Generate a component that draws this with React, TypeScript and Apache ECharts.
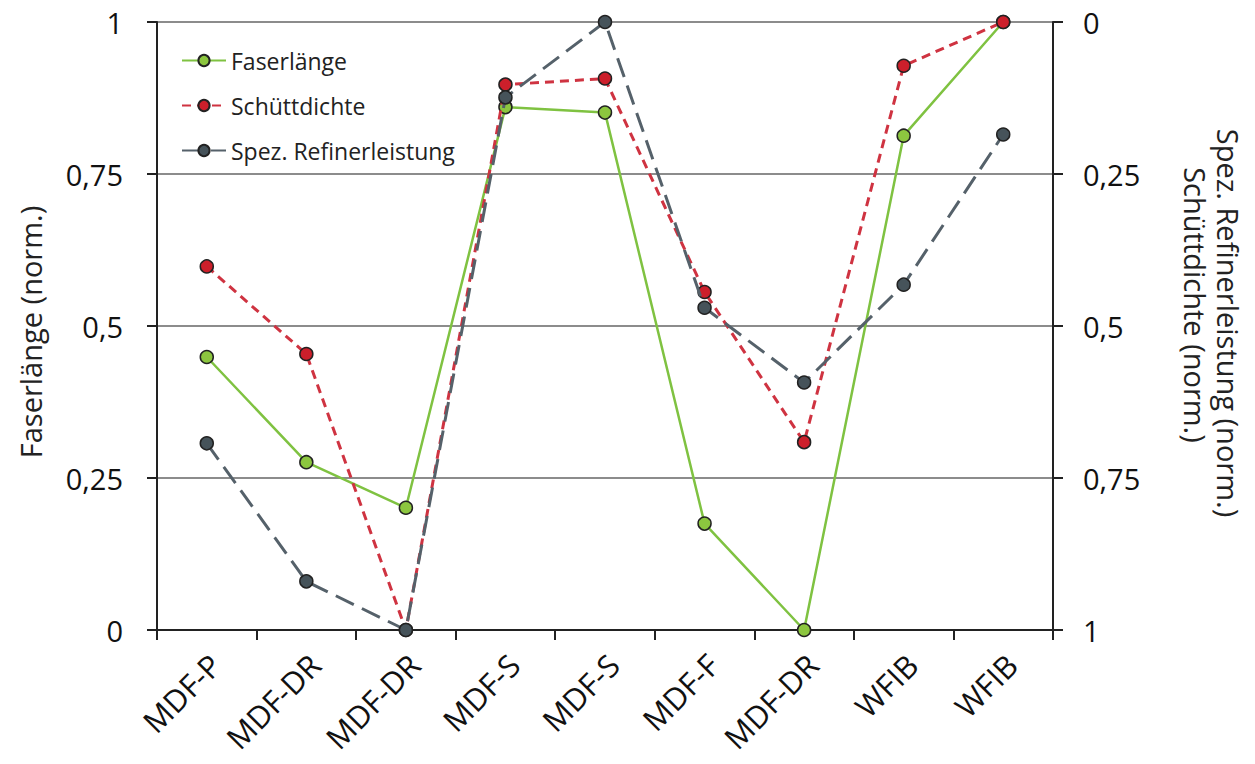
import React, { useEffect, useRef } from "react";
import * as echarts from "echarts";

const categories = ["MDF-P", "MDF-DR", "MDF-DR", "MDF-S", "MDF-S", "MDF-F", "MDF-DR", "WFIB", "WFIB"];
const faserlaenge = [0.449, 0.276, 0.201, 0.86, 0.851, 0.175, 0.0, 0.813, 1.0];
// right axis (inverted) values
const schuettdichte = [0.402, 0.546, 1.0, 0.103, 0.093, 0.444, 0.691, 0.072, 0.0];
const refinerleistung = [0.693, 0.92, 1.0, 0.124, 0.0, 0.47, 0.593, 0.432, 0.185];
const yTicks = [0, 0.25, 0.5, 0.75, 1];

const FONT = "Open Sans";
const fmt = (v: number) => String(v).replace(".", ",");

export default function App() {
  const ref = useRef<HTMLDivElement>(null);
  useEffect(() => {
    if (!ref.current) return;
    const chart = echarts.init(ref.current, null, { renderer: "svg" });
    const markerBorder = { borderColor: "#222", borderWidth: 1.5 };
    chart.setOption({
      animation: false,
      backgroundColor: "#fff",
      textStyle: { fontFamily: FONT },
      grid: { left: 157, right: 202, top: 22, bottom: 134, containLabel: false },
      legend: {
        orient: "vertical",
        left: 176,
        top: 44,
        itemWidth: 44,
        itemHeight: 14,
        itemGap: 22,
        textStyle: { fontFamily: FONT, fontSize: 23, color: "#222" },
        data: ["Faserlänge", "Schüttdichte", "Spez. Refinerleistung"],
      },
      xAxis: {
        type: "category",
        data: categories,
        boundaryGap: true,
        axisLine: { lineStyle: { color: "#222", width: 2 } },
        axisTick: { show: true, length: 10, lineStyle: { color: "#222", width: 2 } },
        axisLabel: {
          rotate: 45,
          margin: 38,
          padding: [0, -12, 0, 0],
          fontFamily: FONT,
          fontSize: 31,
          color: "#111",
          interval: 0,
        },
      },
      yAxis: [
        {
          type: "value",
          min: yTicks[0],
          max: yTicks[yTicks.length - 1],
          interval: 0.25,
          axisLine: { show: true, lineStyle: { color: "#222", width: 2 } },
          axisTick: { show: true, length: 10, lineStyle: { color: "#222", width: 2 } },
          axisLabel: {
            fontFamily: FONT,
            fontSize: 29,
            lineHeight: 29,
            color: "#111",
            margin: 34,
            formatter: fmt,
          },
          splitLine: { show: true, lineStyle: { color: "#8c8c8c", width: 2 } },
        },
        {
          type: "value",
          position: "right",
          inverse: true,
          min: yTicks[0],
          max: yTicks[yTicks.length - 1],
          interval: 0.25,
          axisLine: { show: true, lineStyle: { color: "#222", width: 2 } },
          axisTick: { show: true, length: 10, lineStyle: { color: "#222", width: 2 } },
          axisLabel: {
            fontFamily: FONT,
            fontSize: 29,
            lineHeight: 29,
            color: "#111",
            margin: 30,
            formatter: fmt,
          },
          splitLine: { show: false },
        },
      ],
      series: [
        {
          name: "Faserlänge",
          type: "line",
          yAxisIndex: 0,
          data: faserlaenge,
          symbol: "circle",
          symbolSize: 13,
          lineStyle: { color: "#7fc241", width: 2.5, type: "solid" },
          itemStyle: { color: "#8cc63f", ...markerBorder },
          z: 3,
        },
        {
          name: "Schüttdichte",
          type: "line",
          yAxisIndex: 1,
          data: schuettdichte,
          symbol: "circle",
          symbolSize: 13,
          lineStyle: { color: "#cf3341", width: 3, type: [9, 6] },
          itemStyle: { color: "#cc1f2b", ...markerBorder },
          z: 4,
        },
        {
          name: "Spez. Refinerleistung",
          type: "line",
          yAxisIndex: 1,
          data: refinerleistung,
          symbol: "circle",
          symbolSize: 13,
          lineStyle: { color: "#55616a", width: 3, type: [20, 9] },
          itemStyle: { color: "#46535a", ...markerBorder },
          z: 5,
        },
      ],
      graphic: [
        {
          type: "text",
          x: 30,
          y: 332,
          rotation: Math.PI / 2,
          style: {
            text: "Faserlänge (norm.)",
            fontFamily: FONT,
            fontSize: 29,
            fill: "#222",
            textAlign: "center",
            textVerticalAlign: "middle",
          },
        },
        {
          type: "text",
          x: 1228,
          y: 323,
          rotation: -Math.PI / 2,
          style: {
            text: "Spez. Refinerleistung (norm.)",
            fontFamily: FONT,
            fontSize: 29,
            fill: "#222",
            textAlign: "center",
            textVerticalAlign: "middle",
          },
        },
        {
          type: "text",
          x: 1195,
          y: 305,
          rotation: -Math.PI / 2,
          style: {
            text: "Schüttdichte (norm.)",
            fontFamily: FONT,
            fontSize: 29,
            fill: "#222",
            textAlign: "center",
            textVerticalAlign: "middle",
          },
        },
      ],
    });
    return () => chart.dispose();
  }, []);
  return <div ref={ref} style={{ width: 1255, height: 764, margin: -8 }} />;
}
